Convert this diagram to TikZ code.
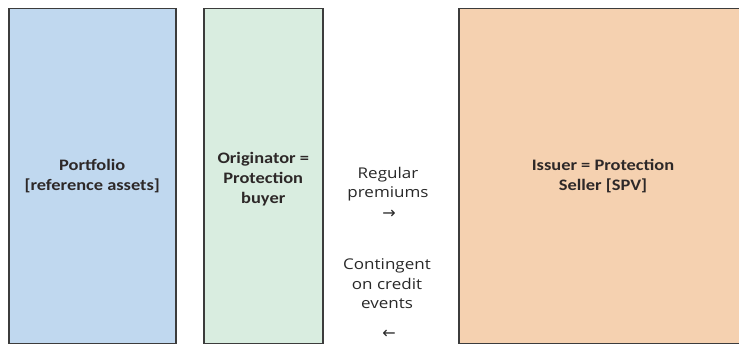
\documentclass[tikz,border=0pt]{standalone}
\usepackage{fontspec}
\setmainfont{Carlito}
\newfontfamily\midfont{Open Sans}
\newfontfamily\arrowfont{DejaVu Sans}
\definecolor{bluefill}{RGB}{192,216,239}
\definecolor{greenfill}{RGB}{217,237,224}
\definecolor{orangefill}{RGB}{245,209,176}
\definecolor{edgecol}{RGB}{60,60,60}
\definecolor{labcol}{RGB}{45,40,40}
\definecolor{midcol}{RGB}{40,40,40}
\begin{document}
\begin{tikzpicture}[x=1pt,y=-1pt,
  panel/.style={draw=edgecol,line width=1.5pt,inner sep=0pt,anchor=north west},
  boxlabel/.style={font=\fontsize{16}{20}\selectfont\bfseries,text=labcol,align=center,xscale=1.15,transform shape},
  midlabel/.style={font=\midfont\fontsize{14.8}{19.5}\selectfont,text=midcol,align=center,xscale=1.15,transform shape},
  arrowlabel/.style={font=\arrowfont\fontsize{16}{16}\selectfont,text=midcol}]
\useasboundingbox (0,0) rectangle (739,344);
\begin{scope}
\clip (0,0) rectangle (739,344);
\node[panel,fill=bluefill,minimum width=167pt,minimum height=335pt] (portfolio) at (8,8) {};
\node[panel,fill=greenfill,minimum width=119pt,minimum height=335pt] (originator) at (203,8) {};
\node[panel,fill=orangefill,minimum width=290pt,minimum height=335pt] (issuer) at (458,8) {};
\end{scope}
\node[boxlabel] (portfoliotext) at (portfolio.center) {Portfolio\\{[}reference assets{]}};
\node[boxlabel] (originatortext) at ([yshift=-3pt]originator.center) {Originator =\\Protection\\buyer};
\node[boxlabel] (issuertext) at (603,176) {Issuer = Protection\\Seller {[}SPV{]}};
\node[midlabel] (premiums) at (388,184) {Regular\\premiums};
\node[arrowlabel] (rightarrow) at (389,214) {→};
\node[midlabel] (contingent) at (387,284) {Contingent\\on credit\\events};
\node[arrowlabel] (leftarrow) at (389,334) {←};
\end{tikzpicture}
\end{document}
